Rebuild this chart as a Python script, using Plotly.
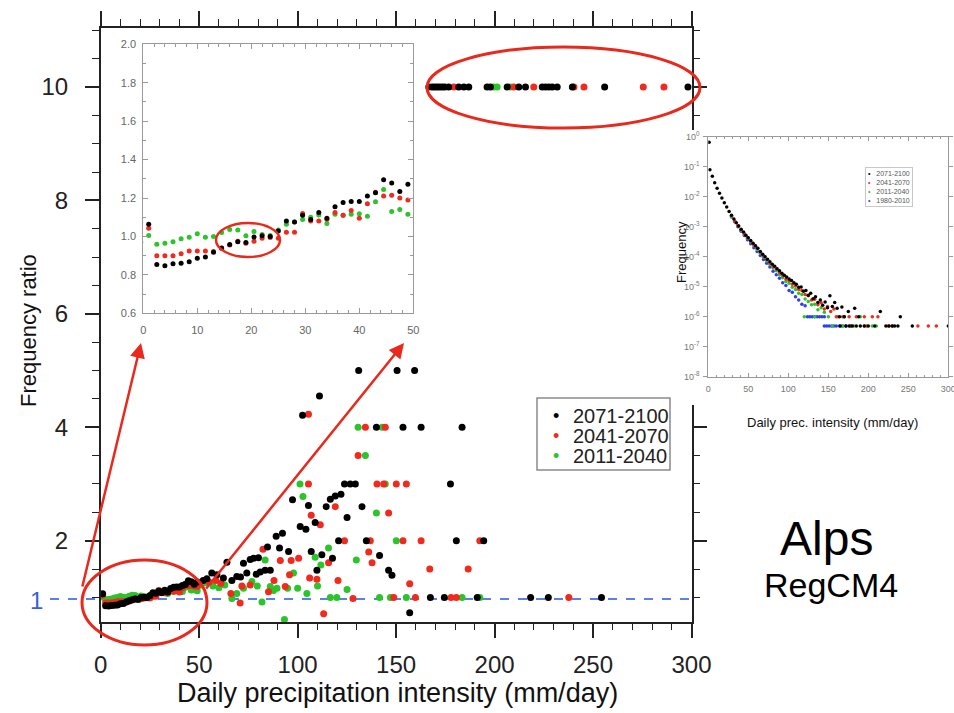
import plotly.graph_objects as go

W, H = 954, 713

# ---------------- data ----------------
# zoomed inset (0-50 mm/day), frequency ratio per bin
inset_x = [1.0, 2.5, 4.0, 5.5, 7.0, 8.5, 10.0, 11.5, 13.0, 14.5, 16.0, 17.5, 19.0, 20.5, 22.0, 23.5,
           25.0, 26.5, 28.0, 29.5, 31.0, 32.5, 34.0, 35.5, 37.0, 38.5, 40.0, 41.5, 43.0, 44.5, 46.0,
           47.5, 49.0]
inset_black = [1.064, 0.854, 0.847, 0.858, 0.860, 0.868, 0.886, 0.893, 0.918, 0.940, 0.958, 0.973,
               0.968, 0.997, 1.004, 1.000, 1.028, 1.080, 1.075, 1.110, 1.088, 1.125, 1.095, 1.155,
               1.177, 1.182, 1.182, 1.210, 1.228, 1.295, 1.278, 1.234, 1.272]
inset_red = [1.043, 0.900, 0.900, 0.900, 0.910, 0.924, 0.924, 0.924, 0.922, 0.938, 0.955, 0.975,
             0.965, 0.975, 0.990, 0.995, 0.990, 1.022, 1.022, 1.120, 1.080, 1.080, 1.090, 1.125,
             1.110, 1.135, 1.095, 1.170, 1.230, 1.210, 1.215, 1.200, 1.190]
inset_green = [1.005, 0.960, 0.965, 0.972, 0.988, 0.996, 1.014, 0.996, 1.000, 1.020, 1.036, 1.034,
               1.003, 1.026, 1.010, 1.005, 1.033, 1.064, 1.075, 1.088, 1.100, 1.112, 1.068, 1.116,
               1.110, 1.116, 1.118, 1.105, 1.180, 1.244, 1.130, 1.140, 1.116]

# main panel, bins above 50 mm/day
black_tail_x = [52.0, 53.9, 56.4, 59.0, 62.3, 64.1, 66.6, 69.1, 71.0, 72.5, 74.2, 75.9, 77.6, 79.0,
                80.1, 81.0, 83.5, 84.7, 86.1, 89.1, 90.8, 92.3, 95.4, 97.4, 101.3, 102.5, 104.2,
                105.5, 106.9, 108.9, 109.8, 111.1, 112.3, 114.5, 116.6, 117.7, 119.1, 120.8, 122.0,
                123.8, 125.1, 126.7, 129.3, 131.0, 132.7, 134.9, 140.0, 141.6, 146.2, 147.9, 150.5,
                153.5, 156.9, 159.4, 162.7, 167.4, 174.5, 177.6, 180.6, 183.5, 191.2, 194.5, 218.3,
                227.3, 254.3,
                166.6, 168.3, 169.6, 170.8, 172.1, 173.4, 174.7, 176.7, 181.8, 184.4, 186.9, 196.2,
                197.9, 206.4, 212.3, 215.7, 224.2, 225.9, 227.6, 229.3, 231.8, 239.5, 255.9, 298.2]
black_tail_y = [1.30, 1.33, 1.43, 1.40, 1.34, 1.62, 1.30, 1.37, 1.36, 1.60, 1.43, 1.67, 1.69, 1.41,
                1.70, 1.45, 1.48, 1.89, 1.48, 2.08, 1.87, 2.13, 1.81, 2.72, 2.25, 4.21, 2.20,
                2.62, 1.81, 2.32, 1.48, 4.55, 1.75, 2.60, 2.73, 1.69, 2.79, 2.0, 2.82,
                3.0, 2.41, 3.0, 3.0, 5.0, 2.60, 2.0, 4.0, 1.74, 1.48, 1.39, 5.0,
                4.0, 0.73, 5.0, 4.0, 1.0, 1.0, 3.0, 2.0, 4.0, 1.0, 2.0, 1.0,
                1.0, 1.0,
                10, 10, 10, 10, 10, 10, 10, 10, 10, 10, 10, 10,
                10, 10, 10, 10, 10, 10, 10, 10, 10, 10, 10, 10]
red_tail_x = [55.0, 58.5, 61.0, 66.1, 70.8, 71.7, 75.9, 82.4, 85.2, 88.0, 91.2, 93.7, 95.9, 96.7,
              100.5, 105.5, 105.5, 106.1, 106.9, 109.8, 111.5, 113.2, 115.7, 119.1, 120.5, 123.8,
              128.1, 130.7, 134.4, 136.1, 136.9, 137.8, 140.3, 143.7, 144.5, 146.2, 148.8, 150.1,
              153.5, 155.2, 156.9, 159.8, 162.7, 167.1, 177.9, 180.6, 186.6, 192.5, 237.7,
              179.3, 209.8, 219.9, 240.3, 245.4, 275.5, 286.0]
red_tail_y = [1.27, 1.30, 1.25, 1.07, 0.90, 1.20, 1.22, 1.85, 1.10, 1.30, 1.65, 1.19, 1.40, 1.65,
              1.69, 4.23, 3.0, 1.34, 2.45, 1.32, 2.28, 0.71, 1.61, 2.60, 1.30, 2.0,
              0.98, 3.5, 4.0, 1.80, 2.0, 1.61, 3.0, 3.0, 4.0, 2.49, 1.0, 3.0,
              2.0, 3.0, 1.24, 1.0, 2.0, 1.5, 1.0, 1.0, 1.5, 2.0, 1.0,
              10, 10, 10, 10, 10, 10, 10]
green_tail_x = [51.0, 53.5, 57.0, 60.0, 63.0, 66.6, 69.1, 72.5, 76.8, 79.5, 81.9, 83.5, 86.1, 87.7,
                89.5, 93.3, 94.9, 97.9, 100.0, 101.2, 102.7, 104.7, 108.9, 110.1, 111.8, 115.7,
                116.6, 119.9, 125.1, 129.8, 130.7, 134.4, 140.0, 141.6, 142.9, 144.5, 147.1, 150.1,
                155.2, 183.5, 192.5,
                199.6, 201.3, 208.1]
green_tail_y = [1.22, 1.26, 1.20, 1.17, 1.22, 0.98, 1.07, 1.16, 1.28, 1.20, 0.92, 1.66, 1.19, 1.12,
                1.16, 0.61, 1.16, 1.43, 1.16, 3.0, 2.78, 1.07, 1.71, 1.20, 1.57, 1.87,
                1.0, 1.0, 1.14, 1.66, 4.0, 3.5, 2.49, 1.0, 4.0, 3.0, 1.0, 2.0,
                1.0, 1.0, 1.0,
                10, 10, 10]

REF_RATIO = 0.97

# right inset: frequency of daily precipitation intensity
freq_black_x = [1, 2, 5, 8, 11, 14, 17, 20, 23, 26, 29, 32, 35, 38, 41, 44, 47, 50, 53, 56, 59, 62,
                65, 68, 71, 74, 77, 80, 83, 86, 89, 92, 95, 98, 101, 104, 107, 110, 113, 116, 119,
                122, 125, 128, 131, 134, 137, 140, 143, 146, 149, 152, 155, 158, 161, 164, 167, 170,
                175, 183, 188, 215, 240,
                165, 172, 176, 180, 185, 190, 195, 200, 208, 222, 226, 230, 233, 237, 255, 300]
freq_black = [0.65, 7.9e-2, 4.8e-2, 2.9e-2, 1.9e-2, 1.3e-2, 9.1e-3, 6.3e-3, 4.5e-3, 3.2e-3, 2.4e-3,
              1.8e-3, 1.35e-3, 1.05e-3, 8.3e-4, 6.6e-4, 5.2e-4, 4.3e-4, 3.5e-4, 2.8e-4, 2.3e-4,
              1.9e-4, 1.5e-4, 1.2e-4, 1.0e-4, 8.3e-5, 6.8e-5, 5.6e-5, 4.8e-5, 4.0e-5, 3.4e-5,
              2.8e-5, 2.4e-5, 2.1e-5, 1.8e-5, 1.6e-5, 1.35e-5, 1.2e-5, 9.5e-6, 9.8e-6, 7.0e-6,
              7.5e-6, 5.2e-6, 6.0e-6, 4.0e-6, 4.6e-6, 3.0e-6, 3.6e-6, 2.4e-6, 3.1e-6, 2.0e-6,
              5.0e-6, 2.2e-6, 3.0e-6, 1.9e-6, 1.0e-6, 2.1e-6, 1.0e-6,
              1.5e-6, 1.9e-6, 1.0e-6, 1.5e-6, 1.0e-6,
              4.9e-7, 4.9e-7, 4.9e-7, 4.9e-7, 4.9e-7, 4.9e-7, 4.9e-7, 4.9e-7, 4.9e-7, 4.9e-7,
              4.9e-7, 4.9e-7, 4.9e-7, 4.9e-7, 4.9e-7, 4.9e-7]
freq_red_x = [29, 33, 37, 41, 45, 49, 53, 57, 61, 65, 69, 73, 77, 81, 85, 89, 93, 97, 101, 105, 109,
              113, 117, 121, 125, 129, 133, 137, 141, 145, 149, 153, 157,
              160, 168, 176, 185, 195, 205, 212,
              178, 198, 225, 230, 262, 275, 285]
freq_red = [2.3e-3, 1.55e-3, 1.1e-3, 7.9e-4, 5.9e-4, 4.4e-4, 3.3e-4, 2.5e-4, 1.9e-4, 1.4e-4, 1.05e-4,
            8.0e-5, 6.2e-5, 4.6e-5, 3.9e-5, 3.0e-5, 2.3e-5, 1.8e-5, 1.6e-5, 1.2e-5, 1.05e-5,
            8.0e-6, 7.5e-6, 5.5e-6, 5.0e-6, 3.6e-6, 3.8e-6, 2.5e-6, 2.9e-6, 1.8e-6, 2.2e-6,
            1.5e-6, 1.8e-6,
            1.0e-6, 1.0e-6, 1.0e-6, 1.0e-6, 1.0e-6, 1.0e-6, 1.0e-6,
            4.9e-7, 4.9e-7, 4.9e-7, 4.9e-7, 4.9e-7, 4.9e-7, 4.9e-7]
freq_green_x = [29, 33, 37, 41, 45, 49, 53, 57, 61, 65, 69, 73, 77, 81, 85, 89, 93, 97, 101, 105,
                109, 113, 117, 121, 125, 129, 133, 137, 141, 145,
                120, 133, 150, 162, 170, 190,
                155, 168, 182, 195, 205, 210]
freq_green = [2.2e-3, 1.5e-3, 1.05e-3, 7.6e-4, 5.6e-4, 4.1e-4, 3.1e-4, 2.3e-4, 1.75e-4, 1.3e-4,
              9.6e-5, 7.3e-5, 5.6e-5, 4.2e-5, 3.4e-5, 2.5e-5, 2.0e-5, 1.5e-5, 1.3e-5, 9.5e-6,
              8.0e-6, 6.0e-6, 5.5e-6, 3.9e-6, 3.2e-6, 2.5e-6, 2.6e-6, 1.7e-6, 2.0e-6, 1.4e-6,
              1.0e-6, 1.0e-6, 1.0e-6, 1.0e-6, 1.0e-6, 1.0e-6,
              4.9e-7, 4.9e-7, 4.9e-7, 4.9e-7, 4.9e-7, 4.9e-7]
freq_blue_x = [29, 33, 37, 41, 45, 49, 53, 57, 61, 65, 69, 73, 77, 81, 85, 89, 93, 97, 101, 105,
               109, 113, 117, 121,
               124, 127, 130, 133, 136, 139, 142, 145,
               145, 148, 151, 154, 157, 160, 164, 168, 172, 178]
freq_blue = [2.1e-3, 1.45e-3, 1.0e-3, 7.1e-4, 5.1e-4, 3.7e-4, 2.7e-4, 2.0e-4, 1.5e-4, 1.1e-4,
             8.1e-5, 6.0e-5, 4.5e-5, 3.3e-5, 2.5e-5, 1.9e-5, 1.35e-5, 1.1e-5, 7.5e-6, 6.5e-6,
             4.6e-6, 3.6e-6, 2.6e-6, 2.3e-6,
             1.0e-6, 1.0e-6, 1.0e-6, 1.0e-6, 1.0e-6, 1.0e-6, 1.0e-6, 1.0e-6,
             4.9e-7, 4.9e-7, 4.9e-7, 4.9e-7, 4.9e-7, 4.9e-7, 4.9e-7, 4.9e-7, 4.9e-7, 4.9e-7]

periods = ["2071-2100", "2041-2070", "2011-2040", "1980-2010"]
freq_ticks = [1, 1e-1, 1e-2, 1e-3, 1e-4, 1e-5, 1e-6, 1e-7, 1e-8]
freq_tick_text = ["10<sup>0</sup>", "10<sup>-1</sup>", "10<sup>-2</sup>", "10<sup>-3</sup>",
                  "10<sup>-4</sup>", "10<sup>-5</sup>", "10<sup>-6</sup>", "10<sup>-7</sup>",
                  "10<sup>-8</sup>"]

BLACK = "#000000"
RED = "#f2291d"
GREEN = "#2bc42b"
BLUE = "#2f3ff0"
DASH_BLUE = "#5a80ea"
MARK_RED = "#e8291c"
FONT = "Liberation Sans"


def fx(p):
    return p / W


def fy(p):
    return 1 - p / H


fig = go.Figure()

# main panel (green, red, black so black ends up on top)
for xs, ys, tx, ty, col in [(inset_x, inset_green, green_tail_x, green_tail_y, GREEN),
                            (inset_x, inset_red, red_tail_x, red_tail_y, RED),
                            (inset_x, inset_black, black_tail_x, black_tail_y, BLACK)]:
    fig.add_trace(go.Scatter(x=xs + tx, y=ys + ty, mode="markers",
                             marker=dict(size=7, color=col), xaxis="x", yaxis="y",
                             cliponaxis=False, showlegend=False))

# zoom inset
for ys, col in [(inset_green, GREEN), (inset_red, RED), (inset_black, BLACK)]:
    fig.add_trace(go.Scatter(x=inset_x, y=ys, mode="markers",
                             marker=dict(size=5, color=col), xaxis="x2", yaxis="y2",
                             showlegend=False))

# empty panel that masks the main frame behind the right inset
fig.add_trace(go.Scatter(x=[None], y=[None], xaxis="x3", yaxis="y3", showlegend=False))

# frequency inset
for xs, ys, col in [(freq_blue_x, freq_blue, BLUE), (freq_green_x, freq_green, GREEN),
                    (freq_red_x, freq_red, RED), (freq_black_x, freq_black, BLACK)]:
    fig.add_trace(go.Scatter(x=xs, y=ys, mode="markers",
                             marker=dict(size=3.5, color=col), xaxis="x4", yaxis="y4",
                             showlegend=False))

AX = "#222222"
GREY = "#9a9a9a"

fig.update_layout(
    template="none",
    width=W, height=H, margin=dict(l=0, r=0, t=0, b=0, pad=0),
    paper_bgcolor="white", plot_bgcolor="white", showlegend=False,
    font=dict(family=FONT, color="#111"),
    xaxis=dict(domain=[fx(100.7), fx(691.5)], range=[0, 300], anchor="y", automargin=False,
               tickvals=[0, 50, 100, 150, 200, 250, 300], ticks="outside", ticklen=15,
               tickwidth=1.5, tickcolor=AX, showline=True, linecolor=AX, linewidth=1.5,
               mirror="ticks", showgrid=False, zeroline=False,
               minor=dict(dtick=10, tick0=0, ticks="outside", ticklen=7, tickcolor=AX,
                          tickwidth=1.2, showgrid=False),
               tickfont=dict(size=24, color="#222"), ticklabelstandoff=6),
    yaxis=dict(domain=[fy(621.5), fy(28)], range=[0.575, 11.04], anchor="x", automargin=False,
               tickvals=[2, 4, 6, 8, 10], ticks="outside", ticklen=14, tickwidth=1.5,
               tickcolor=AX, showline=True, linecolor=AX, linewidth=1.5, mirror="ticks",
               showgrid=False, zeroline=False,
               minor=dict(dtick=0.5, tick0=0, ticks="outside", ticklen=7, tickcolor=AX,
                          tickwidth=1.2, showgrid=False),
               tickfont=dict(size=24, color="#222"), ticklabelstandoff=12),
    xaxis2=dict(domain=[fx(143.3), fx(413.3)], range=[0, 50], anchor="y2", automargin=False,
                dtick=10, ticks="inside", ticklen=5, tickcolor=GREY, showline=True,
                linecolor=GREY, mirror="ticks", showgrid=False, zeroline=False,
                minor=dict(dtick=2, ticks="inside", ticklen=3, tickcolor=GREY, showgrid=False),
                tickfont=dict(size=11, color="#666"), ticklabelstandoff=6),
    yaxis2=dict(domain=[fy(313.3), fy(44.3)], range=[0.6, 2.0], anchor="x2", automargin=False,
                dtick=0.2, tickformat=".1f", ticks="inside", ticklen=5, tickcolor=GREY,
                showline=True, linecolor=GREY, mirror="ticks", showgrid=False, zeroline=False,
                minor=dict(dtick=0.1, ticks="inside", ticklen=3, tickcolor=GREY, showgrid=False),
                tickfont=dict(size=11, color="#666"), ticklabelstandoff=4),
    xaxis3=dict(domain=[fx(660), 1.0], anchor="y3", showline=False, showticklabels=False,
                showgrid=False, zeroline=False, ticks="", automargin=False),
    yaxis3=dict(domain=[fy(405), fy(130)], anchor="x3", showline=False, showticklabels=False,
                showgrid=False, zeroline=False, ticks="", automargin=False),
    xaxis4=dict(domain=[fx(708.3), fx(948.3)], range=[0, 300], anchor="y4", automargin=False,
                dtick=50, ticks="inside", ticklen=4, tickcolor=GREY, showline=True,
                linecolor=GREY, mirror="ticks", showgrid=False, zeroline=False,
                minor=dict(dtick=10, ticks="inside", ticklen=2, tickcolor=GREY, showgrid=False),
                tickfont=dict(size=9, color="#777"), ticklabelstandoff=3,
                ticklabeloverflow="allow"),
    yaxis4=dict(domain=[fy(376.7), fy(136.7)], type="log", range=[-8, 0], anchor="x4",
                automargin=False,
                tickvals=freq_ticks, ticktext=freq_tick_text, ticks="outside", ticklen=4,
                tickcolor=GREY, showline=True, linecolor=GREY, mirror="ticks",
                showgrid=False, zeroline=False,
                tickfont=dict(size=9, color="#777"), ticklabelstandoff=2),
)

shapes = [
    # reference lines at ratio ~1
    dict(type="line", xref="paper", yref="y", x0=fx(50), x1=fx(691.5), y0=REF_RATIO,
         y1=REF_RATIO, line=dict(color=DASH_BLUE, width=2, dash="dash"), layer="below"),
    dict(type="line", xref="x2 domain", yref="y2", x0=0, x1=1, y0=REF_RATIO, y1=REF_RATIO,
         line=dict(color=DASH_BLUE, width=2, dash="dash"), layer="below"),
    # red highlight ellipses
    dict(type="circle", xref="paper", yref="paper", x0=fx(82), x1=fx(207), y0=fy(645),
         y1=fy(560), line=dict(color=MARK_RED, width=3)),
    dict(type="circle", xref="paper", yref="paper", x0=fx(427), x1=fx(700), y0=fy(128),
         y1=fy(47), line=dict(color=MARK_RED, width=3)),
    dict(type="circle", xref="paper", yref="paper", x0=fx(216), x1=fx(280), y0=fy(257),
         y1=fy(223), line=dict(color=MARK_RED, width=2.5)),
    # main legend frame
    dict(type="rect", xref="paper", yref="paper", x0=fx(537), x1=fx(670), y0=fy(470),
         y1=fy(398), line=dict(color="#8a8a8a", width=1.5), fillcolor="white"),
]
fig.update_layout(shapes=shapes)

ann = [
    dict(text="Frequency ratio", x=fx(28), y=fy(331), textangle=-90,
         font=dict(size=22, color="#111")),
    dict(text="Daily precipitation intensity (mm/day)", x=fx(397), y=fy(693),
         font=dict(size=27, color="#111")),
    dict(text="1", x=fx(36), y=fy(600), font=dict(size=24, color="#3a5fd9")),
    dict(text="Alps", x=fx(826), y=fy(538), font=dict(size=48, color="#000")),
    dict(text="RegCM4", x=fx(831), y=fy(585), font=dict(size=34, color="#000")),
    dict(text="Frequency", x=fx(681), y=fy(252), textangle=-90, font=dict(size=13, color="#111")),
    dict(text="Daily prec. intensity (mm/day)", x=fx(832), y=fy(422),
         font=dict(size=13, color="#111")),
]
for i, (lab, col) in enumerate(zip(periods[:3], [BLACK, RED, GREEN])):
    yy = 416 + 20 * i
    ann.append(dict(text="\u2022", x=fx(556), y=fy(yy), font=dict(size=18, color=col)))
    ann.append(dict(text=lab, x=fx(571), y=fy(yy), xanchor="left",
                    font=dict(size=20, color="#222")))

small = "<br>".join(
    f'<span style="color:{c}">\u2022</span>   {p}'
    for p, c in zip(periods, [BLACK, RED, GREEN, BLUE]))
ann.append(dict(text=small, x=fx(865), y=fy(167), xanchor="left", yanchor="top", align="left",
                bordercolor="#c8c8c8", borderwidth=1, borderpad=2,
                font=dict(size=7, color="#555")))

# arrows from the circled region to the zoom inset
ann.append(dict(text="", x=fx(141), y=fy(343), ax=82 - 141, ay=588 - 343, showarrow=True,
                arrowhead=2, arrowsize=1.2, arrowwidth=2.5, arrowcolor=MARK_RED))
ann.append(dict(text="", x=fx(404), y=fy(343), ax=205 - 404, ay=590 - 343, showarrow=True,
                arrowhead=2, arrowsize=1.2, arrowwidth=2.5, arrowcolor=MARK_RED))

for a in ann:
    a.setdefault("xref", "paper")
    a.setdefault("yref", "paper")
    a.setdefault("xanchor", "center")
    a.setdefault("yanchor", "middle")
    a.setdefault("showarrow", False)
fig.update_layout(annotations=ann)

# page body has a default 8px margin; drop it so the figure sits at the window corner
fig.write_html("out.html", config={"displayModeBar": False},
               post_script="document.body.style.margin='0';")
